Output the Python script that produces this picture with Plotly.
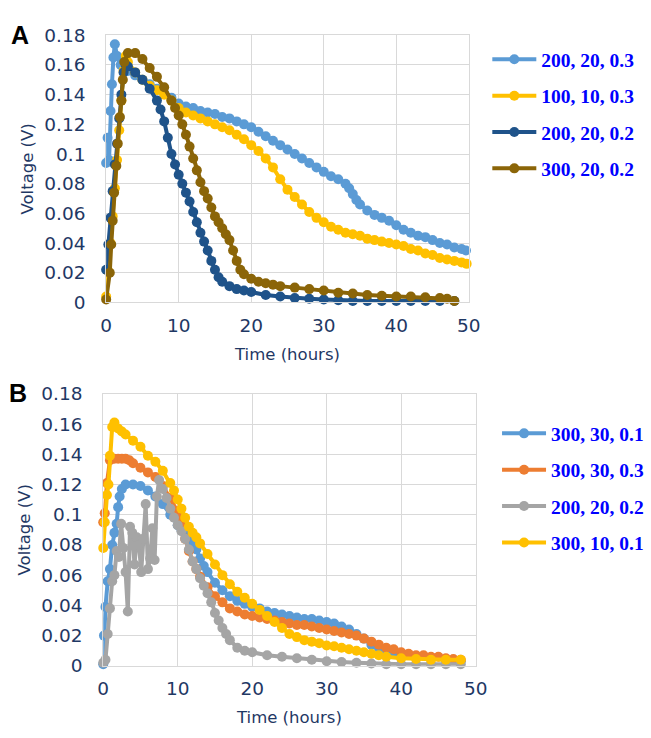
import plotly.graph_objects as go

# ---------------- Panel A: voltage vs time ----------------
a_names = ["200, 20, 0.3", "100, 10, 0.3", "200, 20, 0.2", "300, 20, 0.2"]
a_colors = ["#5B9BD5", "#FFC000", "#1F538A", "#8B6508"]

a1_t = [0, 0.2, 0.4, 0.6, 0.8, 1.0, 1.2, 1.5, 2, 2.5, 3, 4, 5, 6, 7, 8, 9, 10, 11, 12,
        13, 14, 15, 16, 17, 18, 19, 20, 21, 22, 23, 24, 25, 26, 27, 28, 29, 30, 31, 32,
        33, 33.5, 34, 34.5, 35, 36, 37, 38, 39, 40, 41, 42, 43, 44, 45, 46, 47, 48, 49, 49.6]
a1_v = [0.094, 0.111, 0.096, 0.129, 0.147, 0.165, 0.174, 0.166, 0.160, 0.158, 0.156, 0.153, 0.150, 0.147, 0.144, 0.141, 0.138, 0.134, 0.132, 0.131,
        0.129, 0.128, 0.127, 0.125, 0.124, 0.122, 0.120, 0.118, 0.115, 0.112, 0.109, 0.106, 0.103, 0.100, 0.097, 0.094, 0.091, 0.088, 0.085, 0.083,
        0.080, 0.077, 0.073, 0.069, 0.066, 0.062, 0.059, 0.057, 0.055, 0.052, 0.049, 0.047, 0.045, 0.044, 0.042, 0.040, 0.039, 0.037, 0.036, 0.035]

a2_t = [0, 0.3, 0.6, 0.9, 1.2, 1.5, 1.8, 2.1, 2.4, 2.7, 3, 4, 5, 6, 7, 8, 9, 10, 11, 12,
        13, 14, 15, 16, 17, 18, 19, 20, 21, 22, 23, 24, 25, 26, 27, 28, 29, 30, 31, 32,
        33, 34, 35, 36, 37, 38, 39, 40, 41, 42, 43, 44, 45, 46, 47, 48, 49, 49.7]
a2_v = [0.004, 0.021, 0.040, 0.058, 0.077, 0.096, 0.116, 0.136, 0.156, 0.166, 0.162, 0.155, 0.150, 0.146, 0.143, 0.140, 0.136, 0.131, 0.128, 0.126,
        0.124, 0.122, 0.120, 0.118, 0.116, 0.113, 0.110, 0.106, 0.102, 0.097, 0.091, 0.083, 0.076, 0.071, 0.066, 0.061, 0.057, 0.054, 0.051, 0.049,
        0.047, 0.046, 0.045, 0.043, 0.042, 0.041, 0.040, 0.039, 0.038, 0.036, 0.035, 0.033, 0.032, 0.030, 0.029, 0.028, 0.027, 0.026]

a3_t = [0, 0.3, 0.6, 0.9, 1.2, 1.5, 1.8, 2.1, 2.4, 2.7, 3, 4, 5, 6, 7, 7.5, 8, 8.5, 9, 9.5,
        10, 10.5, 11, 11.5, 12, 12.5, 13, 13.5, 14, 14.5, 15, 15.5, 16, 17, 18, 19, 20, 22, 24, 26,
        28, 30, 32, 34, 36, 38, 40, 42, 44, 46, 48]
a3_v = [0.022, 0.039, 0.057, 0.075, 0.093, 0.107, 0.124, 0.140, 0.155, 0.160, 0.159, 0.155, 0.150, 0.144, 0.136, 0.130, 0.122, 0.111, 0.100, 0.093,
        0.086, 0.080, 0.074, 0.068, 0.061, 0.054, 0.047, 0.041, 0.035, 0.028, 0.022, 0.017, 0.014, 0.011, 0.009, 0.008, 0.007, 0.005, 0.004, 0.003,
        0.0025, 0.002, 0.0015, 0.001, 0.001, 0.001, 0.001, 0.001, 0.001, 0.001, 0.001]

a4_t = [0, 0.5, 0.7, 0.9, 1.1, 1.4, 1.6, 1.9, 2.1, 2.3, 2.5, 3, 4, 5, 6, 7, 8, 9, 9.5, 10,
        10.5, 11, 11.5, 12, 12.5, 13, 13.5, 14, 14.5, 15, 15.5, 16, 16.5, 17, 17.5, 18, 18.5, 19, 20, 21,
        22, 23, 24, 26, 28, 30, 32, 34, 36, 38, 40, 42, 44, 46, 47, 48]
a4_v = [0.002, 0.020, 0.039, 0.055, 0.074, 0.092, 0.107, 0.125, 0.136, 0.150, 0.162, 0.168, 0.168, 0.164, 0.158, 0.152, 0.145, 0.136, 0.131, 0.126,
        0.120, 0.113, 0.105, 0.097, 0.089, 0.081, 0.075, 0.070, 0.064, 0.058, 0.054, 0.050, 0.046, 0.042, 0.035, 0.028, 0.022, 0.019, 0.016, 0.014,
        0.013, 0.012, 0.011, 0.010, 0.009, 0.008, 0.0066, 0.006, 0.005, 0.0045, 0.004, 0.004, 0.0035, 0.003, 0.0025, 0.001]

# ---------------- Panel B: voltage vs time ----------------
b_names = ["300, 30, 0.1", "300, 30, 0.3", "200, 20, 0.2", "300, 10, 0.1"]
b_colors = ["#5B9BD5", "#ED7D31", "#A5A5A5", "#FFC000"]

b1_t = [0, 0.1, 0.3, 0.6, 0.9, 1.2, 1.5, 1.8, 2.0, 2.2, 2.5, 3, 4, 5, 6, 7, 8, 9, 10, 10.5,
        11, 11.5, 12, 12.5, 13, 13.5, 14, 15, 16, 17, 18, 19, 20, 21, 22, 23, 24, 25, 26, 27,
        28, 29, 30, 31, 32, 33, 34, 35, 36, 37, 38, 39, 40, 42, 44, 46, 48]
b1_v = [0.001, 0.020, 0.039, 0.056, 0.064, 0.080, 0.088, 0.094, 0.105, 0.112, 0.117, 0.120, 0.120, 0.119, 0.116, 0.112, 0.107, 0.100, 0.093, 0.090,
        0.088, 0.084, 0.080, 0.077, 0.071, 0.066, 0.062, 0.055, 0.050, 0.046, 0.043, 0.041, 0.039, 0.038, 0.036, 0.035, 0.034, 0.033, 0.032, 0.031,
        0.031, 0.030, 0.029, 0.028, 0.026, 0.024, 0.021, 0.018, 0.014, 0.012, 0.009, 0.008, 0.007, 0.006, 0.005, 0.004, 0.003]

b2_t = [0, 0.2, 0.5, 0.9, 1.5, 2, 2.5, 3, 3.5, 4, 5, 6, 7, 8, 9, 10, 10.5, 11, 11.5, 12,
        12.5, 13, 14, 15, 16, 17, 18, 19, 20, 21, 22, 23, 24, 25, 26, 27, 28, 29, 30, 31,
        32, 33, 34, 35, 36, 37, 38, 39, 40, 41, 42, 43, 44, 45, 46, 47, 48]
b2_v = [0.095, 0.101, 0.121, 0.136, 0.137, 0.137, 0.137, 0.137, 0.136, 0.134, 0.131, 0.128, 0.125, 0.119, 0.111, 0.102, 0.094, 0.084, 0.076, 0.069,
        0.064, 0.059, 0.052, 0.046, 0.042, 0.038, 0.036, 0.034, 0.033, 0.032, 0.031, 0.030, 0.029, 0.028, 0.027, 0.027, 0.026, 0.025, 0.024, 0.023,
        0.022, 0.021, 0.020, 0.018, 0.016, 0.014, 0.012, 0.011, 0.009, 0.008, 0.007, 0.007, 0.006, 0.006, 0.005, 0.0045, 0.004]

b3_t = [0, 0.3, 0.6, 0.9, 1.2, 1.5, 1.8, 2.1, 2.4, 2.7, 3.0, 3.3, 3.6, 3.9, 4.2, 4.5, 4.8, 5.1, 5.4, 5.7,
        6.0, 6.3, 6.6, 6.9, 7.2, 7.5, 8, 8.5, 9, 9.5, 10, 10.5, 11, 11.5, 12, 12.5, 13, 13.5, 14, 14.5,
        15, 15.5, 16, 16.5, 17, 18, 19, 20, 22, 24, 26, 28, 30, 32, 34, 36, 38, 40, 42, 44,
        46, 48]
b3_v = [0.002, 0.004, 0.021, 0.038, 0.056, 0.060, 0.076, 0.072, 0.094, 0.078, 0.062, 0.036, 0.092, 0.088, 0.067, 0.085, 0.080, 0.062, 0.084, 0.107,
        0.064, 0.071, 0.091, 0.070, 0.112, 0.123, 0.117, 0.111, 0.104, 0.098, 0.093, 0.089, 0.084, 0.077, 0.069, 0.064, 0.058, 0.053, 0.048, 0.042,
        0.035, 0.030, 0.025, 0.021, 0.017, 0.012, 0.010, 0.009, 0.007, 0.006, 0.005, 0.004, 0.003, 0.0025, 0.002, 0.0015, 0.001, 0.001, 0.001, 0.001,
        0.001, 0.001]

b4_t = [0, 0.2, 0.5, 0.7, 0.9, 1.2, 1.5, 2, 2.5, 3, 4, 5, 6, 7, 8, 9, 9.5, 10, 10.5, 11,
        11.5, 12, 12.5, 13, 14, 15, 16, 17, 18, 19, 20, 21, 22, 23, 24, 25, 26, 27, 28, 29,
        30, 31, 32, 33, 34, 35, 36, 37, 38, 40, 42, 44, 46, 48]
b4_v = [0.078, 0.095, 0.113, 0.120, 0.139, 0.158, 0.161, 0.157, 0.155, 0.153, 0.149, 0.145, 0.139, 0.135, 0.129, 0.121, 0.116, 0.110, 0.104, 0.098,
        0.092, 0.088, 0.085, 0.081, 0.074, 0.067, 0.060, 0.054, 0.049, 0.045, 0.041, 0.037, 0.033, 0.029, 0.025, 0.021, 0.019, 0.017, 0.016, 0.015,
        0.0135, 0.013, 0.012, 0.011, 0.010, 0.009, 0.008, 0.007, 0.006, 0.005, 0.0045, 0.004, 0.004, 0.004]

x_ticks = [0, 10, 20, 30, 40, 50]
y_ticks = [0, 0.02, 0.04, 0.06, 0.08, 0.10, 0.12, 0.14, 0.16, 0.18]
y_tick_labels = ["0", "0.02", "0.04", "0.06", "0.08", "0.1", "0.12", "0.14", "0.16", "0.18"]

W, H = 651, 738
NAVY = "#1F3864"
GRID = "#D9D9D9"
TICK_FONT = dict(family="DejaVu Sans", size=18.5, color=NAVY)
TITLE_FONT = dict(family="DejaVu Sans", size=16.5, color=NAVY)
LEGEND_FONT = dict(family="Liberation Serif", size=19.5, color="#0000FF", weight="bold")
PANEL_FONT = dict(family="Liberation Sans", size=25, color="black")

fig = go.Figure()


def add_series(ts, vs, name, color, xa, ya, legend):
    assert len(ts) == len(vs), name
    fig.add_trace(go.Scatter(
        x=ts, y=vs, name=name, mode="lines+markers",
        line=dict(color=color, width=4),
        marker=dict(color=color, size=10),
        xaxis=xa, yaxis=ya, legend=legend, legendgroup=legend + name,
        cliponaxis=False,
    ))


for (ts, vs), nm, col in zip([(a1_t, a1_v), (a2_t, a2_v), (a3_t, a3_v), (a4_t, a4_v)], a_names, a_colors):
    add_series(ts, vs, nm, col, "x", "y", "legend")
for (ts, vs), nm, col in zip([(b1_t, b1_v), (b2_t, b2_v), (b3_t, b3_v), (b4_t, b4_v)], b_names, b_colors):
    add_series(ts, vs, nm, col, "x2", "y2", "legend2")


def px_x(p):
    return p / W


def px_y(p):
    return 1 - p / H


def x_axis(domain, anchor):
    return dict(
        domain=domain, anchor=anchor, range=[0, 50], tickvals=x_ticks,
        showgrid=True, gridcolor=GRID, gridwidth=1, zeroline=False,
        showline=True, linecolor=GRID, linewidth=1, mirror=True,
        ticks="outside", ticklen=6, tickcolor="rgba(0,0,0,0)",
        tickfont=TICK_FONT,
        title=dict(text="Time (hours)", font=TITLE_FONT, standoff=13),
    )


def y_axis(domain, anchor):
    return dict(
        domain=domain, anchor=anchor, range=[0, 0.18],
        tickvals=y_ticks, ticktext=y_tick_labels,
        showgrid=True, gridcolor=GRID, gridwidth=1, zeroline=False,
        showline=True, linecolor=GRID, linewidth=1, mirror=True,
        ticks="outside", ticklen=16, tickcolor="rgba(0,0,0,0)",
        tickfont=TICK_FONT,
        title=dict(text="Voltage (V)", font=TITLE_FONT, standoff=6),
    )


def legend_box(x, y):
    return dict(
        x=x, y=y, xanchor="left", yanchor="top",
        font=LEGEND_FONT, bgcolor="rgba(0,0,0,0)",
        traceorder="grouped", tracegroupgap=8, itemwidth=44,
    )


fig.update_layout(
    width=W, height=H, autosize=False,
    margin=dict(l=0, r=0, t=0, b=0),
    paper_bgcolor="white", plot_bgcolor="white",
    showlegend=True,
    xaxis=x_axis([px_x(103), px_x(476)], "y"),
    yaxis=y_axis([px_y(300), px_y(25)], "x"),
    xaxis2=x_axis([px_x(100), px_x(483)], "y2"),
    yaxis2=y_axis([px_y(674), px_y(394)], "x2"),
    legend=legend_box(px_x(495), px_y(30)),
    legend2=legend_box(px_x(505), px_y(415)),
    annotations=[
        dict(text="<b>A</b>", x=px_x(3), y=px_y(25), xref="paper", yref="paper",
             xanchor="left", yanchor="middle", showarrow=False, font=PANEL_FONT),
        dict(text="<b>B</b>", x=px_x(1), y=px_y(393), xref="paper", yref="paper",
             xanchor="left", yanchor="middle", showarrow=False, font=PANEL_FONT),
    ],
)

fig.write_html("out.html")
